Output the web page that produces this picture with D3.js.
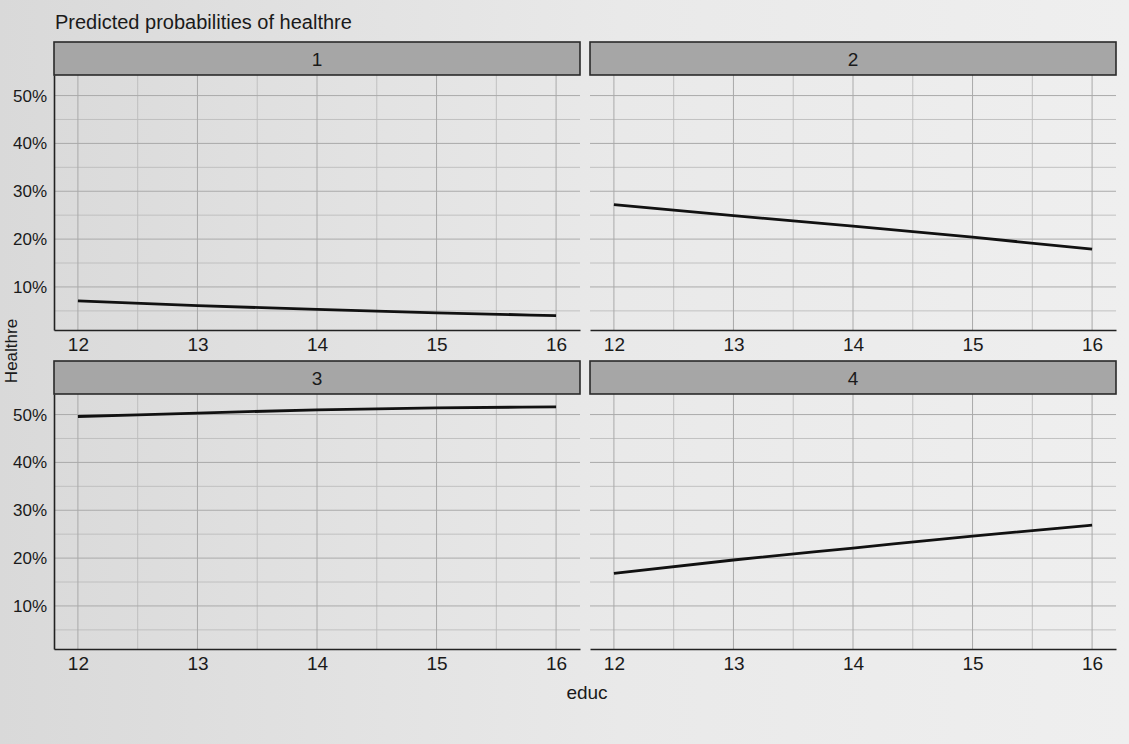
<!DOCTYPE html>
<html>
<head>
<meta charset="utf-8">
<script src="https://cdn.jsdelivr.net/npm/d3@7"></script>
<style>
  html, body { margin: 0; padding: 0; }
  body { width: 1129px; height: 744px; overflow: hidden; font-family: "Liberation Sans", Arial, Helvetica, sans-serif; }
</style>
</head>
<body>
<svg id="chart" width="1129" height="744"></svg>
<script>
// ---- data ----
const educ = [12, 13, 14, 15, 16];
const facetLabels = ["1", "2", "3", "4"];
const prob1 = [7.1, 6.1, 5.3, 4.6, 4.0];
const prob2 = [27.2, 24.9, 22.7, 20.4, 17.9];
const prob3 = [49.6, 50.3, 51.0, 51.4, 51.6];
const prob4 = [16.8, 19.6, 22.1, 24.6, 26.9];
const xTicks = [12, 13, 14, 15, 16];
const xMinor = [12.5, 13.5, 14.5, 15.5];
const yTicks = [10, 20, 30, 40, 50];
const yMinor = [5, 15, 25, 35, 45];
const titleText = "Predicted probabilities of healthre";
const xTitle = "educ";
const yTitle = "Healthre";

const series = [prob1, prob2, prob3, prob4];

// ---- layout ----
const svg = d3.select("#chart");
const W = 1129, H = 744;

const defs = svg.append("defs");
const bg = defs.append("linearGradient").attr("id", "paper").attr("x1", "0").attr("x2", "1").attr("y1", "0").attr("y2", "0");
bg.append("stop").attr("offset", "0").attr("stop-color", "#d9d9d9");
bg.append("stop").attr("offset", "0.55").attr("stop-color", "#e9e9e9");
bg.append("stop").attr("offset", "1").attr("stop-color", "#efefef");
svg.append("rect").attr("width", W).attr("height", H).attr("fill", "url(#paper)");

const cols = [{x0: 54, x1: 580}, {x0: 590, x1: 1116}];
const rows = [{s0: 42, p0: 75, p1: 330}, {s0: 361, p0: 394, p1: 649}];
const textColor = "#1a1a1a";

svg.append("text")
  .attr("x", 55).attr("y", 29)
  .attr("font-size", 20).attr("fill", textColor)
  .text(titleText);

series.forEach((vals, i) => {
  const c = cols[i % 2], r = rows[Math.floor(i / 2)];
  const x = d3.scaleLinear().domain([11.8, 16.2]).range([c.x0, c.x1]);
  const y = d3.scaleLinear().domain([1, 54.3]).range([r.p1, r.p0]);
  const g = svg.append("g");

  // grid minor
  g.selectAll(".hmin").data(yMinor).join("line")
    .attr("x1", c.x0).attr("x2", c.x1)
    .attr("y1", d => y(d)).attr("y2", d => y(d))
    .attr("stroke", "#bcbcbc").attr("stroke-width", 0.9);
  g.selectAll(".vmin").data(xMinor).join("line")
    .attr("x1", d => x(d)).attr("x2", d => x(d))
    .attr("y1", r.p0).attr("y2", r.p1)
    .attr("stroke", "#bcbcbc").attr("stroke-width", 0.9);
  // grid major
  g.selectAll(".hmaj").data(yTicks).join("line")
    .attr("x1", c.x0).attr("x2", c.x1)
    .attr("y1", d => y(d)).attr("y2", d => y(d))
    .attr("stroke", "#aaaaaa").attr("stroke-width", 1);
  g.selectAll(".vmaj").data(xTicks).join("line")
    .attr("x1", d => x(d)).attr("x2", d => x(d))
    .attr("y1", r.p0).attr("y2", r.p1)
    .attr("stroke", "#aaaaaa").attr("stroke-width", 1);

  // strip
  g.append("rect")
    .attr("x", c.x0).attr("y", r.s0)
    .attr("width", c.x1 - c.x0).attr("height", r.p0 - r.s0)
    .attr("fill", "#a6a6a6").attr("stroke", "#2a2a2a").attr("stroke-width", 1.6);
  g.append("text")
    .attr("x", (c.x0 + c.x1) / 2).attr("y", (r.s0 + r.p0) / 2 + 7)
    .attr("text-anchor", "middle").attr("font-size", 19).attr("fill", textColor)
    .text(facetLabels[i]);

  // x axis
  const xAxis = d3.axisBottom(x).tickValues(xTicks).tickSize(0).tickPadding(8).tickFormat(d3.format("d"));
  const xa = g.append("g").attr("transform", `translate(0,${r.p1})`).call(xAxis);
  xa.select(".domain").attr("stroke", "#222").attr("stroke-width", 1.6);
  xa.selectAll("text").attr("font-size", 19).attr("fill", textColor)
    .attr("font-family", "Liberation Sans, Arial, sans-serif");

  // y axis on left column
  if (i % 2 === 0) {
    const yAxis = d3.axisLeft(y).tickValues(yTicks).tickSize(0).tickPadding(7).tickFormat(d => d + "%");
    const ya = g.append("g").attr("transform", `translate(${c.x0},0)`).call(yAxis);
    ya.select(".domain").attr("stroke", "#222").attr("stroke-width", 1.6);
    ya.selectAll("text").attr("font-size", 17).attr("fill", textColor)
      .attr("font-family", "Liberation Sans, Arial, sans-serif");
  }

  // line
  const line = d3.line().x((d, j) => x(educ[j])).y(d => y(d)).curve(d3.curveMonotoneX);
  g.append("path").datum(vals)
    .attr("d", line).attr("fill", "none")
    .attr("stroke", "#111").attr("stroke-width", 2.8);
});

svg.append("text")
  .attr("x", 587).attr("y", 699)
  .attr("text-anchor", "middle").attr("font-size", 19).attr("fill", textColor)
  .text(xTitle);

svg.append("text")
  .attr("transform", "translate(17,351) rotate(-90)")
  .attr("text-anchor", "middle").attr("font-size", 17).attr("fill", textColor)
  .text(yTitle);
</script>
</body>
</html>
